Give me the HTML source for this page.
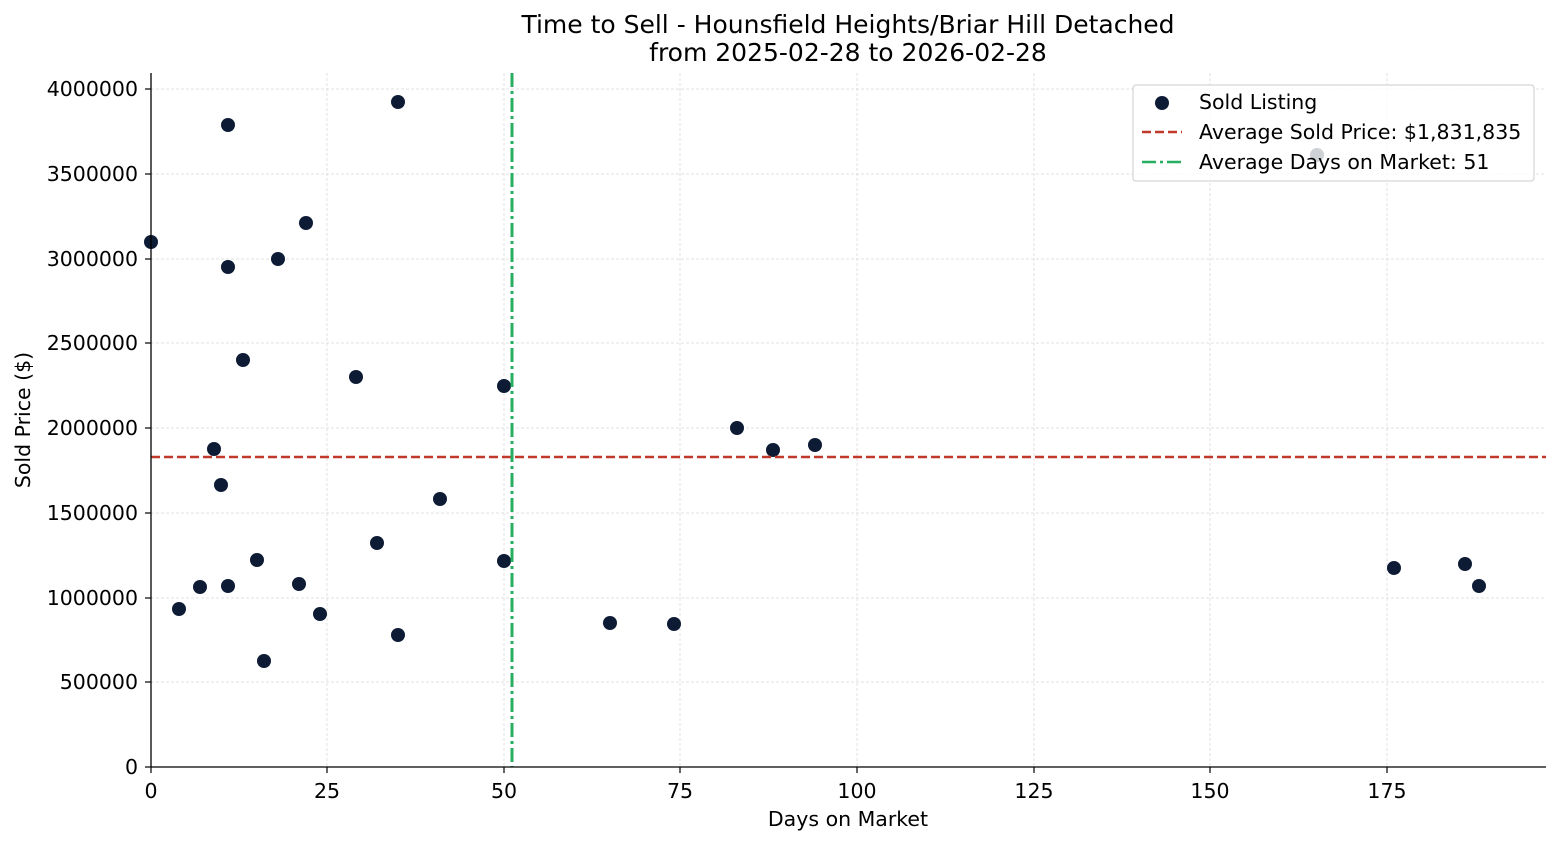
<!DOCTYPE html>
<html><head><meta charset="utf-8"><style>body{margin:0;background:#fff}svg{display:block;font-family:"DejaVu Sans","Liberation Sans",sans-serif}</style></head>
<body>
<svg width="1560" height="845" xmlns="http://www.w3.org/2000/svg">
<rect width="1560" height="845" fill="#fff"/>
<g stroke="#d9d9d9" stroke-width="0.8" stroke-dasharray="3,2">
<line x1="327" y1="73" x2="327" y2="767"/><line x1="504" y1="73" x2="504" y2="767"/><line x1="680" y1="73" x2="680" y2="767"/><line x1="857" y1="73" x2="857" y2="767"/><line x1="1034" y1="73" x2="1034" y2="767"/><line x1="1210" y1="73" x2="1210" y2="767"/><line x1="1387" y1="73" x2="1387" y2="767"/>
<line x1="151" y1="682" x2="1546" y2="682"/><line x1="151" y1="598" x2="1546" y2="598"/><line x1="151" y1="513" x2="1546" y2="513"/><line x1="151" y1="428" x2="1546" y2="428"/><line x1="151" y1="343" x2="1546" y2="343"/><line x1="151" y1="259" x2="1546" y2="259"/><line x1="151" y1="174" x2="1546" y2="174"/><line x1="151" y1="89" x2="1546" y2="89"/>
</g>
<g fill="#0d1b35">
<circle cx="151" cy="242" r="7"/><circle cx="179" cy="609" r="7"/><circle cx="200" cy="587" r="7"/><circle cx="214" cy="449" r="7"/><circle cx="221" cy="485" r="7"/><circle cx="228" cy="125" r="7"/><circle cx="228" cy="267" r="7"/><circle cx="228" cy="586" r="7"/><circle cx="243" cy="360" r="7"/><circle cx="257" cy="560" r="7"/><circle cx="264" cy="661" r="7"/><circle cx="278" cy="259" r="7"/><circle cx="299" cy="584" r="7"/><circle cx="306" cy="223" r="7"/><circle cx="320" cy="614" r="7"/><circle cx="356" cy="377" r="7"/><circle cx="377" cy="543" r="7"/><circle cx="398" cy="102" r="7"/><circle cx="398" cy="635" r="7"/><circle cx="440" cy="499" r="7"/><circle cx="504" cy="386" r="7"/><circle cx="504" cy="561" r="7"/><circle cx="610" cy="623" r="7"/><circle cx="674" cy="624" r="7"/><circle cx="737" cy="428" r="7"/><circle cx="773" cy="450" r="7"/><circle cx="815" cy="445" r="7"/><circle cx="1317" cy="155" r="7"/><circle cx="1394" cy="568" r="7"/><circle cx="1465" cy="564" r="7"/><circle cx="1479" cy="586" r="7"/>
</g>
<line x1="151" y1="457" x2="1546" y2="457" stroke="#c0392b" stroke-width="2.5" stroke-dasharray="9,4"/>
<line x1="512" y1="73" x2="512" y2="767" stroke="#27ae60" stroke-width="3" stroke-dasharray="14,4,3,4"/>
<g stroke="#000" stroke-width="1.3"><line x1="151" y1="73" x2="151" y2="767"/><line x1="151" y1="767" x2="1546" y2="767"/></g>
<g stroke="#000" stroke-width="1.2">
<line x1="151" y1="767" x2="151" y2="773"/><line x1="327" y1="767" x2="327" y2="773"/><line x1="504" y1="767" x2="504" y2="773"/><line x1="680" y1="767" x2="680" y2="773"/><line x1="857" y1="767" x2="857" y2="773"/><line x1="1034" y1="767" x2="1034" y2="773"/><line x1="1210" y1="767" x2="1210" y2="773"/><line x1="1387" y1="767" x2="1387" y2="773"/>
<line x1="145" y1="767" x2="151" y2="767"/><line x1="145" y1="682" x2="151" y2="682"/><line x1="145" y1="598" x2="151" y2="598"/><line x1="145" y1="513" x2="151" y2="513"/><line x1="145" y1="428" x2="151" y2="428"/><line x1="145" y1="343" x2="151" y2="343"/><line x1="145" y1="259" x2="151" y2="259"/><line x1="145" y1="174" x2="151" y2="174"/><line x1="145" y1="89" x2="151" y2="89"/>
</g>
<g font-size="20.5" fill="#000" text-anchor="middle">
<text x="151" y="798">0</text><text x="327" y="798">25</text><text x="504" y="798">50</text><text x="680" y="798">75</text><text x="857" y="798">100</text><text x="1034" y="798">125</text><text x="1210" y="798">150</text><text x="1387" y="798">175</text>
</g>
<g font-size="20.5" fill="#000" text-anchor="end">
<text x="138" y="774">0</text><text x="138" y="689">500000</text><text x="138" y="605">1000000</text><text x="138" y="520">1500000</text><text x="138" y="435">2000000</text><text x="138" y="350">2500000</text><text x="138" y="266">3000000</text><text x="138" y="181">3500000</text><text x="138" y="96">4000000</text>
</g>
<text x="848" y="826" font-size="20.5" text-anchor="middle">Days on Market</text>
<text transform="translate(30,420) rotate(-90)" font-size="20.5" text-anchor="middle">Sold Price ($)</text>
<text x="848" y="33" font-size="25" text-anchor="middle">Time to Sell - Hounsfield Heights/Briar Hill Detached</text>
<text x="848" y="61" font-size="25" text-anchor="middle">from 2025-02-28 to 2026-02-28</text>
<rect x="1133" y="85" width="401" height="96" rx="3" fill="#fff" fill-opacity="0.8" stroke="#ccc"/>
<circle cx="1162" cy="103" r="7" fill="#0d1b35"/>
<line x1="1142" y1="132" x2="1182" y2="132" stroke="#c0392b" stroke-width="2.5" stroke-dasharray="9,4"/>
<line x1="1142" y1="162" x2="1182" y2="162" stroke="#27ae60" stroke-width="2.5" stroke-dasharray="14,4,3,4"/>
<g font-size="20.5" fill="#000"><text x="1199" y="109">Sold Listing</text><text x="1199" y="139">Average Sold Price: $1,831,835</text><text x="1199" y="169">Average Days on Market: 51</text></g>
</svg>
</body></html>
